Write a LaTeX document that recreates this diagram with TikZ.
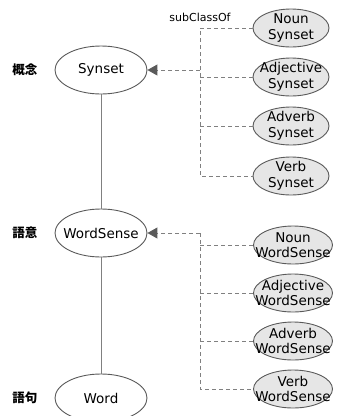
\documentclass[tikz,border=0pt]{standalone}
\usepackage{fontspec}
\setmainfont{DejaVu Sans}
\newfontfamily\jpfont{Noto Sans CJK JP}
\usetikzlibrary{arrows.meta,shapes.geometric}
\definecolor{edgegray}{HTML}{5A5A5A}
\definecolor{linegray}{HTML}{808080}
\definecolor{fillgray}{HTML}{E6E6E6}
\tikzset{
  mainell/.style={ellipse, draw=edgegray, fill=white, line width=0.9pt, minimum width=92pt, minimum height=48pt, inner sep=0pt},
  subell/.style={ellipse, draw=edgegray, fill=fillgray, line width=0.9pt, minimum width=76pt, minimum height=38pt, inner sep=0pt},
  maintxt/.style={font=\fontsize{13.5}{16}\selectfont, inner sep=0pt},
  subtxt/.style={font=\fontsize{13.5}{15.5}\selectfont, align=center, inner sep=0pt},
  jplabel/.style={font=\jpfont\bfseries\fontsize{12.5}{14}\selectfont, inner sep=0pt},
  solidline/.style={draw=linegray, line width=1pt},
  dashline/.style={draw=linegray, line width=1pt, dash pattern=on 4pt off 3pt},
  inh/.style={dashline, -{Triangle[length=10pt, width=11pt, color=edgegray, fill=edgegray]}},
}
\begin{document}
\begin{tikzpicture}[x=1pt, y=-1pt]
\useasboundingbox (0,0) rectangle (337,416);
% main ellipses
\node[mainell] (syn) at (101,70) {};
\node[maintxt] (synT) at (syn) {Synset};
\node[mainell] (ws) at (101,233) {};
\node[maintxt] (wsT) at (ws) {WordSense};
\node[mainell] (w) at (101,398) {};
\node[maintxt] (wT) at (w) {Word};
% vertical solid lines
\draw[solidline] (syn.south) -- (ws.north);
\draw[solidline] (ws.south) -- (w.north);
% Japanese labels
\node[jplabel] (l1) at (25,70) {概念};
\node[jplabel] (l2) at (25,233) {語意};
\node[jplabel] (l3) at (25,398) {語句};
% upper sub ellipses
\node[subell] (ns) at (291,28) {};
\node[subtxt] (nsT) at (ns) {Noun\\Synset};
\node[subell] (as) at (291,77) {};
\node[subtxt] (asT) at (as) {Adjective\\Synset};
\node[subell] (vs) at (291,126) {};
\node[subtxt] (vsT) at (vs) {Adverb\\Synset};
\node[subell] (bs) at (291,176) {};
\node[subtxt] (bsT) at (bs) {Verb\\Synset};
% lower sub ellipses
\node[subell, minimum width=79pt] (nw) at (293,245) {};
\node[subtxt] (nwT) at (nw) {Noun\\WordSense};
\node[subell, minimum width=79pt] (aw) at (293,293) {};
\node[subtxt] (awT) at (aw) {Adjective\\WordSense};
\node[subell, minimum width=79pt] (dw) at (293,341) {};
\node[subtxt] (dwT) at (dw) {Adverb\\WordSense};
\node[subell, minimum width=79pt] (vw) at (293,389) {};
\node[subtxt] (vwT) at (vw) {Verb\\WordSense};
% upper trunk
\coordinate (ut1) at (200,28);
\coordinate (ut2) at (200,70);
\coordinate (ut3) at (200,77);
\coordinate (ut4) at (200,126);
\coordinate (ut5) at (200,176);
\draw[dashline] (ns.west) -- (ut1) -- (ut5) -- (bs.west);
\draw[dashline] (ut3) -- (as.west);
\draw[dashline] (ut4) -- (vs.west);
\draw[inh] (ut2) -- (syn.east);
\node[font=\fontsize{11}{13}\selectfont, inner sep=0pt] (sc) at (200,17) {subClassOf};
% lower trunk
\coordinate (lt0) at (200,233);
\coordinate (lt1) at (200,245);
\coordinate (lt2) at (200,293);
\coordinate (lt3) at (200,341);
\coordinate (lt4) at (200,389);
\draw[inh] (lt0) -- (ws.east);
\draw[dashline] (lt0) -- (lt4) -- (vw.west);
\draw[dashline] (lt1) -- (nw.west);
\draw[dashline] (lt2) -- (aw.west);
\draw[dashline] (lt3) -- (dw.west);
\end{tikzpicture}
\end{document}
